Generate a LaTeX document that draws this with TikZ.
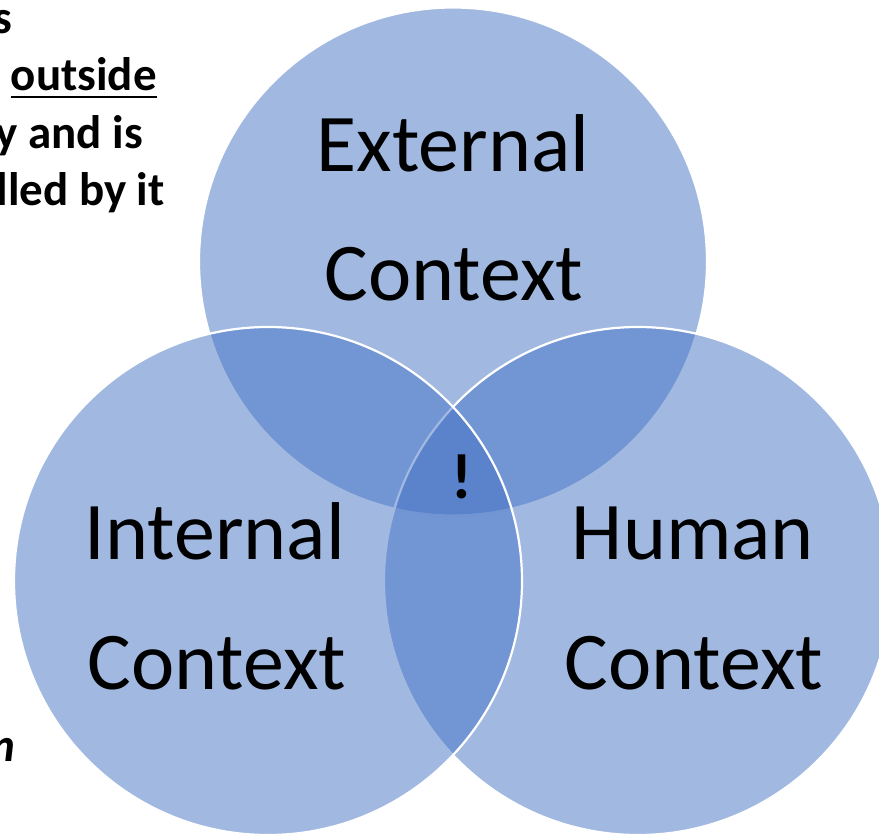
\documentclass[tikz,border=0pt]{standalone}
\usepackage{fontspec}
\setmainfont{Carlito}
\definecolor{accent}{HTML}{4472C4}
\tikzset{
  venn/.style={fill=accent, fill opacity=0.5, draw=white, draw opacity=1, line width=2.2pt},
  bigtext/.style={inner sep=0pt, anchor=base, font=\fontsize{82}{99}\selectfont},
  sidetext/.style={inner sep=0pt, anchor=base east, font=\fontsize{47}{57}\selectfont\bfseries},
}
\begin{document}
\begin{tikzpicture}[x=1pt, y=-1pt]
\useasboundingbox (0,0) rectangle (879,835);
\begin{scope}
\clip (0,0) rectangle (879,835);
% circles: top, right, left
\path[venn] (453,261.5) circle (254);
\path[venn] (638,581) circle (254);
\path[venn] (268,581) circle (254);

% left side text (cut off)
\node[sidetext] (l1) at (12,33) {s};
\node[sidetext] (l2) at (157,90) {outside};
\draw[line width=2.6pt] ([yshift=-7pt]l2.base west) -- ([yshift=-7pt]l2.base east);
\node[sidetext] (l3) at (143,148) {y and is};
\node[sidetext] (l4) at (165,205) {lled by it};
\node[sidetext, font=\fontsize{47}{57}\selectfont\bfseries\itshape] (l5) at (15,761) {n};
\end{scope}

% circle labels
\node[bigtext] (ext1) at (453,171) {External};
\node[bigtext] (ext2) at (454,300) {Context};
\node[bigtext] (int1) at (215,559) {Internal};
\node[bigtext] (int2) at (217,689) {Context};
\node[bigtext] (hum1) at (693,559) {Human};
\node[bigtext] (hum2) at (694,689) {Context};
\node[inner sep=0pt, anchor=base, font=\fontsize{64}{70}\selectfont\bfseries] (ex) at (462,498) {!};
\end{tikzpicture}
\end{document}
